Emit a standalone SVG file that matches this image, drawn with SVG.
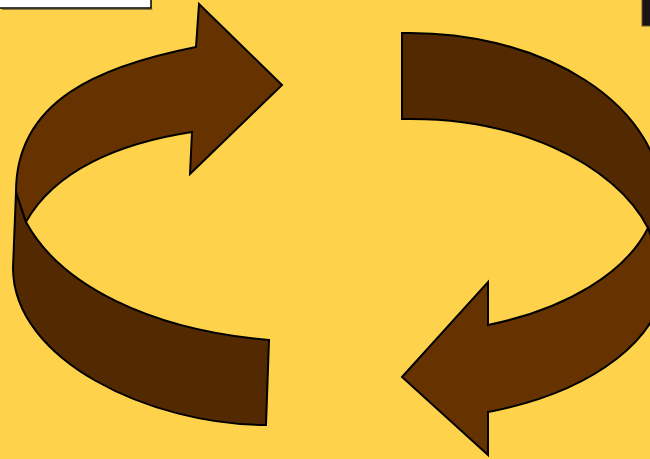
<svg xmlns="http://www.w3.org/2000/svg" width="650" height="459" viewBox="0 0 650 459">
<style>
.bg{fill:#FFD24B}
.light{fill:#663300;stroke:#000;stroke-width:2;stroke-linejoin:miter}
.dark{fill:#522900;stroke:#000;stroke-width:2;stroke-linejoin:miter}
</style>
<rect class="bg" x="0" y="0" width="650" height="459"/>
<g id="label-box">
<rect x="-2" y="-2" width="153" height="10" fill="#fff" stroke="#000" stroke-width="1.5"/>
<line x1="2" y1="9.5" x2="152.5" y2="9.5" stroke="#8a7a50" stroke-width="1"/>
</g>
<g id="corner-box">
<rect x="642" y="-2" width="10" height="28" fill="#1c1214" stroke="#6b5a2a" stroke-width="1"/>
</g>
<g id="connectors">
<g id="left-arrow">
<path class="dark" d="M16,192 L13,268 C13,360 150,425 266,425 L269,340 C150,330 60,285 26,222 Z"/>
<path class="light" d="M196,47 L199,4 L282,85 L190,174 L192,132 C120,143 55,170 26,222 L16,192 C16,100 100,66 196,47 Z"/>
</g>
<g id="right-arrow">
<path class="dark" d="M402,33 A252,168 0 0 1 662,201 L662,260 L648,228 A250,160 0 0 0 402,119 Z"/>
<path class="light" d="M488,325 A258,145 0 0 0 648,228 L665,275 A265,145 0 0 1 488,412 L488,455 L402,377 L488,282 Z"/>
</g>
</g>
</svg>
